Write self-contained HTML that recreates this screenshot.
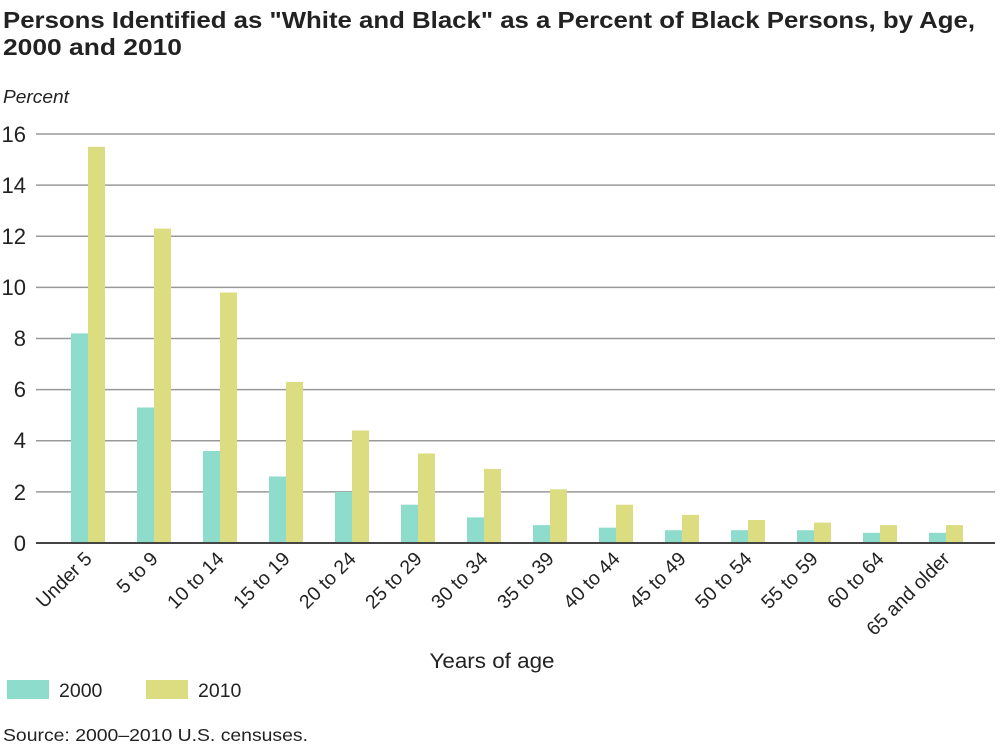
<!DOCTYPE html>
<html><head><meta charset="utf-8"><style>
body{margin:0;background:#fff;}
svg{display:block;font-family:"Liberation Sans",sans-serif;}
</style></head><body>
<svg width="1000" height="747" viewBox="0 0 1000 747">
<text x="3" y="28" font-size="23" font-weight="bold" fill="#222" textLength="972" lengthAdjust="spacingAndGlyphs">Persons Identified as "White and Black" as a Percent of Black Persons, by Age,</text>
<text x="3" y="55" font-size="23" font-weight="bold" fill="#222" textLength="179" lengthAdjust="spacingAndGlyphs">2000 and 2010</text>
<text x="3" y="103" font-size="18" font-style="italic" fill="#222" textLength="66" lengthAdjust="spacingAndGlyphs">Percent</text>
<g stroke="#999" stroke-width="1.5">
<line x1="36" x2="995" y1="134" y2="134"/><line x1="36" x2="995" y1="185.1" y2="185.1"/>
<line x1="36" x2="995" y1="236.2" y2="236.2"/><line x1="36" x2="995" y1="287.4" y2="287.4"/>
<line x1="36" x2="995" y1="338.5" y2="338.5"/><line x1="36" x2="995" y1="389.6" y2="389.6"/>
<line x1="36" x2="995" y1="440.7" y2="440.7"/><line x1="36" x2="995" y1="491.9" y2="491.9"/>
</g>
<g font-size="22" fill="#222" text-anchor="end">
<text x="26" y="142">16</text><text x="26" y="193">14</text><text x="26" y="244">12</text>
<text x="26" y="295">10</text><text x="26" y="346">8</text><text x="26" y="397">6</text>
<text x="26" y="448">4</text><text x="26" y="500">2</text><text x="26" y="551">0</text>
</g>
<g fill="#8ddccc">
<rect x="71" y="333.4" width="17" height="209.6"/><rect x="137" y="407.5" width="17" height="135.5"/>
<rect x="203" y="451" width="17" height="92"/><rect x="269" y="476.5" width="17" height="66.5"/>
<rect x="335" y="491.9" width="17" height="51.1"/><rect x="401" y="504.7" width="17" height="38.3"/>
<rect x="467" y="517.4" width="17" height="25.6"/><rect x="533" y="525.1" width="17" height="17.9"/>
<rect x="599" y="527.7" width="17" height="15.3"/><rect x="665" y="530.2" width="17" height="12.8"/>
<rect x="731" y="530.2" width="17" height="12.8"/><rect x="797" y="530.2" width="17" height="12.8"/>
<rect x="863" y="532.8" width="17" height="10.2"/><rect x="929" y="532.8" width="17" height="10.2"/>
</g>
<g fill="#dcdc80">
<rect x="88" y="146.8" width="17" height="396.2"/><rect x="154" y="228.6" width="17" height="314.4"/>
<rect x="220" y="292.5" width="17" height="250.5"/><rect x="286" y="382" width="17" height="161"/>
<rect x="352" y="430.5" width="17" height="112.5"/><rect x="418" y="453.5" width="17" height="89.5"/>
<rect x="484" y="468.9" width="17" height="74.1"/><rect x="550" y="489.3" width="17" height="53.7"/>
<rect x="616" y="504.7" width="17" height="38.3"/><rect x="682" y="514.9" width="17" height="28.1"/>
<rect x="748" y="520" width="17" height="23"/><rect x="814" y="522.6" width="17" height="20.4"/>
<rect x="880" y="525.1" width="17" height="17.9"/><rect x="946" y="525.1" width="17" height="17.9"/>
</g>
<line x1="36" x2="995" y1="543" y2="543" stroke="#444" stroke-width="2"/>
<g font-size="19.5" fill="#222" text-anchor="end">
<text transform="translate(93,560) rotate(-45)">Under 5</text>
<text transform="translate(159,560) rotate(-45)">5 to 9</text>
<text transform="translate(225,560) rotate(-45)">10 to 14</text>
<text transform="translate(291,560) rotate(-45)">15 to 19</text>
<text transform="translate(357,560) rotate(-45)">20 to 24</text>
<text transform="translate(423,560) rotate(-45)">25 to 29</text>
<text transform="translate(489,560) rotate(-45)">30 to 34</text>
<text transform="translate(555,560) rotate(-45)">35 to 39</text>
<text transform="translate(621,560) rotate(-45)">40 to 44</text>
<text transform="translate(687,560) rotate(-45)">45 to 49</text>
<text transform="translate(753,560) rotate(-45)">50 to 54</text>
<text transform="translate(819,560) rotate(-45)">55 to 59</text>
<text transform="translate(885,560) rotate(-45)">60 to 64</text>
<text transform="translate(951,560) rotate(-45)">65 and older</text>
</g>
<text x="492" y="668" font-size="21" fill="#222" text-anchor="middle" textLength="125" lengthAdjust="spacingAndGlyphs">Years of age</text>
<rect x="7" y="680" width="42" height="19" fill="#8ddccc"/>
<text x="59" y="697" font-size="19.5" fill="#222">2000</text>
<rect x="146" y="680" width="42" height="19" fill="#dcdc80"/>
<text x="198" y="697" font-size="19.5" fill="#222">2010</text>
<text x="3" y="741" font-size="17.5" fill="#222" textLength="305" lengthAdjust="spacingAndGlyphs">Source: 2000–2010 U.S. censuses.</text>
</svg>
</body></html>
